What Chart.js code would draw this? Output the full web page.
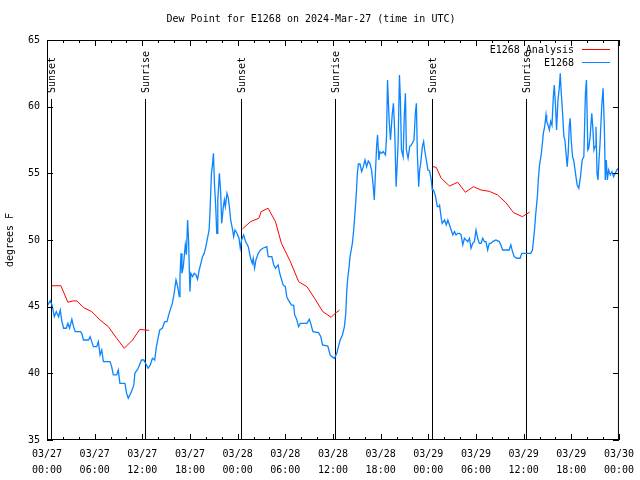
<!DOCTYPE html>
<html>
<head>
<meta charset="utf-8">
<title>Dew Point for E1268</title>
<script src="https://cdn.jsdelivr.net/npm/chart.js@4.4.1/dist/chart.umd.min.js"></script>
<style>
    html, body { margin: 0; padding: 0; background: #fff; }
    #wrap { width: 640px; height: 480px; }
</style>
</head>
<body>
<div id="wrap"><canvas id="grafico" width="640" height="480"></canvas></div>
<script>
const titulo = 'Dew Point for E1268 on 2024-Mar-27 (time in UTC)'
const yLabel = 'degrees F'

// horas desde 03/27 00:00 UTC
const obsHours = [
    0, 0.2, 0.42, 0.63, 0.92, 1.17, 1.46, 1.67, 1.88, 2.09, 2.42, 2.63, 2.84, 3.13, 3.34, 3.55,
    4.2, 4.38, 4.59, 5.22, 5.43, 5.63, 5.84, 6.26, 6.47, 6.68, 6.89, 7.1, 7.93, 8.14, 8.35, 8.77,
    8.97, 9.18, 9.81, 10.02, 10.23, 10.64, 10.93, 11.06, 11.48, 11.9, 12.19, 12.52, 12.73, 13.0,
    13.27, 13.56, 13.77, 13.98, 14.19, 14.52, 14.81, 15.1, 15.44, 15.78, 15.98, 16.24, 16.45,
    16.66, 16.74, 16.87, 16.99, 17.16, 17.41, 17.55, 17.7, 17.82, 17.99, 18.11, 18.33, 18.53,
    18.74, 18.95, 19.16, 19.37, 19.58, 19.79, 20.0, 20.2, 20.41, 20.54, 20.7, 20.83, 20.95,
    21.08, 21.24, 21.37, 21.45, 21.5, 21.7, 21.87, 21.99, 22.2, 22.33, 22.45, 22.66, 22.83,
    23.0, 23.12, 23.33, 23.5, 23.66, 23.83, 24.0, 24.17, 24.33, 24.5, 24.75, 25.0, 25.34, 25.63,
    25.84, 25.96, 26.13, 26.3, 26.59, 26.88, 27.17, 27.67, 27.84, 28.3, 28.55, 28.76, 29.09,
    29.3, 29.55, 29.72, 30.0, 30.18, 30.34, 30.76, 31.05, 31.18, 31.4, 31.68, 31.89, 32.72,
    33.02, 33.2, 33.47, 34.18, 34.47, 34.68, 35.35, 35.64, 35.85, 36.19, 36.48, 36.69, 36.9,
    37.19, 37.44, 37.61, 37.74, 37.86, 38.03, 38.15, 38.44, 38.61, 38.78, 38.94, 39.07, 39.2,
    39.4, 39.61, 39.82, 40.03, 40.24, 40.44, 40.65, 40.86, 41.07, 41.2, 41.36, 41.49, 41.61,
    41.78, 41.9, 42.11, 42.32, 42.61, 42.74, 42.87, 42.95, 43.07, 43.24, 43.45, 43.61, 43.78,
    43.95, 44.07, 44.2, 44.37, 44.49, 44.62, 44.83, 44.99, 45.12, 45.24, 45.45, 45.66, 45.87,
    46.2, 46.37, 46.5, 46.62, 46.79, 46.91, 47.04, 47.25, 47.41, 47.54, 47.75, 47.95, 48.16,
    48.37, 48.5, 48.66, 48.79, 48.92, 49.13, 49.3, 49.42, 49.63, 49.75, 50.05, 50.26, 50.46,
    50.67, 50.88, 51.09, 51.3, 51.5, 51.72, 51.93, 52.13, 52.34, 52.55, 52.76, 52.97, 53.18,
    53.38, 53.59, 53.8, 54.01, 54.22, 54.43, 54.64, 54.85, 55.06, 55.26, 55.47, 55.68, 55.89,
    56.1, 56.51, 56.93, 57.14, 57.35, 57.77, 58.18, 58.39, 58.6, 58.81, 59.15, 59.56, 59.77,
    60.48, 60.9, 61.11, 61.23, 61.39, 61.5, 61.73, 61.85, 61.98, 62.23, 62.36, 62.48, 62.65,
    62.82, 62.9, 63.07, 63.24, 63.4, 63.57, 63.74, 63.86, 64.03, 64.15, 64.32, 64.49, 64.61,
    64.74, 64.91, 65.07, 65.2, 65.32, 65.49, 65.61, 65.74, 65.86, 65.99, 66.16, 66.3, 66.53,
    66.74, 66.95, 67.16, 67.37, 67.58, 67.78, 67.91, 68.08, 68.2, 68.37, 68.58, 68.7, 68.86,
    68.99, 69.11, 69.24, 69.36, 69.49, 69.62, 69.83, 70.0, 70.16, 70.28, 70.41, 70.54, 70.7,
    70.91, 71.12, 71.33, 71.53, 71.74, 71.95
]
const obsValues = [
    45.0, 45.25, 45.45, 45.13, 44.25, 44.63, 44.25, 44.75, 43.88, 43.38, 43.38, 43.75, 43.38, 44.05, 43.5, 43.13,
    43.13, 43.0, 42.5, 42.5, 42.75, 42.38, 42.0, 42.0, 42.38, 41.38, 41.75, 40.88, 40.88, 40.5, 39.88, 39.88,
    40.25, 39.25, 39.25, 38.5, 38.13, 38.63, 39.13, 40.0, 40.38, 41.0, 41.0, 40.63, 40.38, 40.63,
    41.13, 41.0, 42.0, 42.63, 43.25, 43.38, 43.88, 43.88, 44.63, 45.25, 45.9, 47.0, 46.5,
    45.75, 47.25, 49.0, 47.5, 48.0, 49.63, 48.9, 51.5, 50.0, 46.13, 47.5, 47.25, 47.5,
    47.4, 47.05, 47.75, 48.25, 48.75, 49.0, 49.5, 50.13, 50.75, 52.38, 55.0, 55.63, 56.5,
    54.25, 52.5, 50.5, 50.5, 53.0, 55.0, 53.5, 51.25, 52.5, 53.0, 52.5, 53.5, 53.13,
    52.25, 51.5, 50.88, 50.25, 50.75, 50.6, 50.38, 50.13, 49.38, 50.0, 50.38, 49.88, 49.5, 48.63,
    48.25, 48.63, 47.88, 48.5, 49.0, 49.25, 49.38, 49.5, 48.75, 48.75, 48.13, 47.88, 48.13,
    47.5, 47.0, 46.63, 46.5, 45.75, 45.55, 45.13, 45.1, 44.38, 44.1, 43.5, 43.75, 43.75,
    44.05, 43.75, 43.13, 43.05, 42.75, 42.13, 42.05, 41.38, 41.25, 41.13, 41.5, 42.0, 42.5,
    42.88, 43.5, 44.5, 46.25, 47.13, 48.0, 48.75, 49.75, 50.75, 52.13, 53.5, 55.0, 55.7,
    55.7, 55.13, 55.5, 56.0, 55.5, 55.93, 55.75, 55.25, 54.0, 53.0, 55.25, 57.0, 57.88,
    56.0, 56.63, 56.5, 56.63, 56.38, 57.75, 62.0, 60.75, 59.0, 57.5, 59.38, 60.25, 58.0,
    54.0, 55.5, 57.25, 62.38, 60.5, 56.75, 56.25, 59.5, 61.0, 56.75, 56.13, 57.0, 57.13,
    57.5, 59.5, 60.25, 56.5, 54.0, 55.25, 55.75, 57.0, 57.38, 56.75, 56.0, 55.25, 55.2,
    54.5, 53.75, 53.75, 53.5, 53.25, 52.5, 52.5, 52.6, 51.63, 51.25, 51.5, 51.13, 51.5,
    51.13, 50.75, 50.38, 50.63, 50.38, 50.5, 50.5, 50.38, 49.63, 50.13, 50.0, 49.88, 50.13,
    49.38, 49.75, 49.88, 50.75, 50.13, 49.75, 49.75, 50.13, 49.88, 49.88, 49.25, 49.75, 49.75,
    49.88, 50.0, 49.88, 49.63, 49.25, 49.25, 49.25, 49.63, 49.13, 48.75, 48.63, 48.63, 49.0,
    49.0, 49.0, 49.25, 49.88, 50.88, 51.8, 53.25, 54.5, 55.5, 56.5, 57.25, 58.0, 58.5,
    59.38, 58.9, 58.63, 58.25, 58.9, 58.6, 60.75, 61.63, 59.88, 58.25, 60.5, 61.4, 62.5,
    61.0, 59.5, 57.75, 57.5, 56.63, 55.5, 56.5, 58.5, 59.13, 57.5, 56.25, 56.0, 55.0,
    54.13, 53.88, 54.75, 56.0, 56.25, 61.0, 62.0, 56.75, 56.88, 57.75, 59.5, 58.5, 56.75,
    57.0, 58.5, 55.0, 54.5, 56.0, 57.25, 60.0, 61.38, 58.5, 54.5, 56.0, 54.5, 55.25,
    54.88, 55.13, 54.75, 55.0, 55.25, 55.38
]

// analise: tres trechos, separados por null
const analysisHours = [
    0.59, 1.75, 2.63, 3.26, 3.76, 4.59, 5.63, 6.68, 7.72, 8.77, 9.73, 10.77, 11.69, 12.31, 12.86,
    18,
    24.6, 25.63, 26.67, 26.96, 27.84, 28.76, 29.51, 30.64, 31.68, 32.72, 33.68, 34.72, 35.77, 36.27, 36.81,
    42,
    48.58, 49.0, 49.63, 50.67, 51.71, 52.67, 53.68, 54.64, 55.68, 56.72, 57.77, 58.73, 59.85, 60.77
]
const analysisValues = [
    46.57, 46.57, 45.33, 45.43, 45.43, 44.93, 44.63, 44.0, 43.5, 42.63, 41.88, 42.5, 43.3, 43.25, 43.23,
    null,
    50.83, 51.38, 51.63, 52.13, 52.38, 51.38, 49.75, 48.37, 46.87, 46.5, 45.63, 44.63, 44.2, 44.5, 44.73,
    null,
    55.5, 55.45, 54.63, 54.05, 54.33, 53.58, 54.0, 53.75, 53.65, 53.38, 52.8, 52.05, 51.75, 52.1
]

const sunHours = [0.54, 12.31, 24.46, 36.23, 48.5, 60.27]
const sunLabels = ['Sunset', 'Sunrise', 'Sunset', 'Sunrise', 'Sunset', 'Sunrise']

const xTickDays = ['03/27', '03/27', '03/27', '03/27', '03/28', '03/28', '03/28', '03/28', '03/29', '03/29', '03/29', '03/29', '03/30']
const xTickTimes = ['00:00', '06:00', '12:00', '18:00', '00:00', '06:00', '12:00', '18:00', '00:00', '06:00', '12:00', '18:00', '00:00']

const fonte = '10px "DejaVu Sans Mono", monospace'
const fonteObj = { family: '"DejaVu Sans Mono", monospace', size: 10, weight: 'normal' }

// linhas de nascer/por do sol
const linhasSol = {
    id: 'linhasSol',
    beforeDatasetsDraw(chart) {
        const { ctx, chartArea: a, scales } = chart
        ctx.save()
        ctx.strokeStyle = '#000'
        ctx.fillStyle = '#000'
        ctx.lineWidth = 1
        ctx.font = fonte
        sunHours.forEach((h, i) => {
            const px = Math.round(scales.x.getPixelForValue(h)) + 0.5
            ctx.beginPath()
            ctx.moveTo(px, 99)
            ctx.lineTo(px, a.bottom)
            ctx.stroke()
            ctx.save()
            ctx.translate(px + 1, 93)
            ctx.rotate(-Math.PI / 2)
            ctx.textAlign = 'left'
            ctx.textBaseline = 'middle'
            ctx.fillText(sunLabels[i], 0, 0)
            ctx.restore()
        })
        ctx.restore()
    }
}

// moldura, ticks internos e legenda no estilo gnuplot
const moldura = {
    id: 'moldura',
    afterDatasetsDraw(chart) {
        const { ctx, chartArea: a, scales } = chart
        ctx.save()
        ctx.strokeStyle = '#000'
        ctx.lineWidth = 1
        ctx.strokeRect(a.left + 0.5, a.top + 0.5, a.right - a.left - 1, a.bottom - a.top - 1)

        ctx.beginPath()
        scales.y.ticks.forEach(t => {
            const py = Math.round(scales.y.getPixelForValue(t.value)) + 0.5
            ctx.moveTo(a.left, py); ctx.lineTo(a.left + 6, py)
            ctx.moveTo(a.right, py); ctx.lineTo(a.right - 6, py)
        })
        for (let h = 0; h <= 72; h += 2) {
            const px = Math.round(scales.x.getPixelForValue(h)) + 0.5
            const len = h % 6 === 0 ? 6 : 3
            ctx.moveTo(px, a.bottom); ctx.lineTo(px, a.bottom - len)
            ctx.moveTo(px, a.top); ctx.lineTo(px, a.top + len)
        }
        ctx.stroke()

        // legenda
        ctx.font = fonte
        ctx.textAlign = 'right'
        ctx.textBaseline = 'middle'
        chart.data.datasets.forEach((ds, i) => {
            const y = 50 + i * 13
            ctx.fillStyle = '#000'
            ctx.fillText(ds.label, 574, y)
            ctx.strokeStyle = ds.borderColor
            ctx.lineWidth = 1
            ctx.beginPath()
            ctx.moveTo(582, y - 0.5)
            ctx.lineTo(610, y - 0.5)
            ctx.stroke()
        })
        ctx.restore()
    }
}

function init() {
    const ctx = document.getElementById('grafico')

    new Chart(ctx, {
        type: 'line',
        data: {
            datasets: [
                {
                    label: 'E1268 Analysis',
                    data: analysisHours.map((h, i) => ({ x: h, y: analysisValues[i] })),
                    borderColor: '#ff0000',
                    borderWidth: 1,
                    pointRadius: 0,
                    tension: 0,
                    spanGaps: false,
                    order: 1
                },
                {
                    label: 'E1268',
                    data: obsHours.map((h, i) => ({ x: h, y: obsValues[i] })),
                    borderColor: '#0a84ff',
                    borderWidth: 1.3,
                    pointRadius: 0,
                    tension: 0,
                    order: 0
                }
            ]
        },
        options: {
            responsive: false,
            animation: false,
            devicePixelRatio: 1,
            layout: { autoPadding: false, padding: { top: 0, right: 18, bottom: 0, left: 0 } },
            plugins: {
                legend: { display: false },
                tooltip: { enabled: false },
                title: {
                    display: true,
                    text: titulo,
                    color: '#000',
                    font: fonteObj,
                    padding: { top: 13, bottom: 15 }
                }
            },
            scales: {
                x: {
                    type: 'linear',
                    min: 0,
                    max: 72,
                    grid: { display: false, drawTicks: false },
                    border: { display: false },
                    ticks: {
                        stepSize: 6,
                        autoSkip: false,
                        maxRotation: 0,
                        color: '#000',
                        font: { ...fonteObj, lineHeight: 1.6 },
                        padding: 6,
                        callback: (v, i) => [xTickDays[i], xTickTimes[i]]
                    },
                    afterFit: s => { s.height = 40 }
                },
                y: {
                    min: 35,
                    max: 65,
                    grid: { display: false, drawTicks: false },
                    border: { display: false },
                    ticks: {
                        stepSize: 5,
                        color: '#000',
                        font: fonteObj,
                        padding: 7
                    },
                    title: {
                        display: true,
                        text: yLabel,
                        color: '#000',
                        font: fonteObj,
                        padding: { top: 4, bottom: 0 }
                    },
                    afterFit: s => { s.width = 47 }
                }
            }
        },
        plugins: [linhasSol, moldura]
    })
}

init()
</script>
</body>
</html>
